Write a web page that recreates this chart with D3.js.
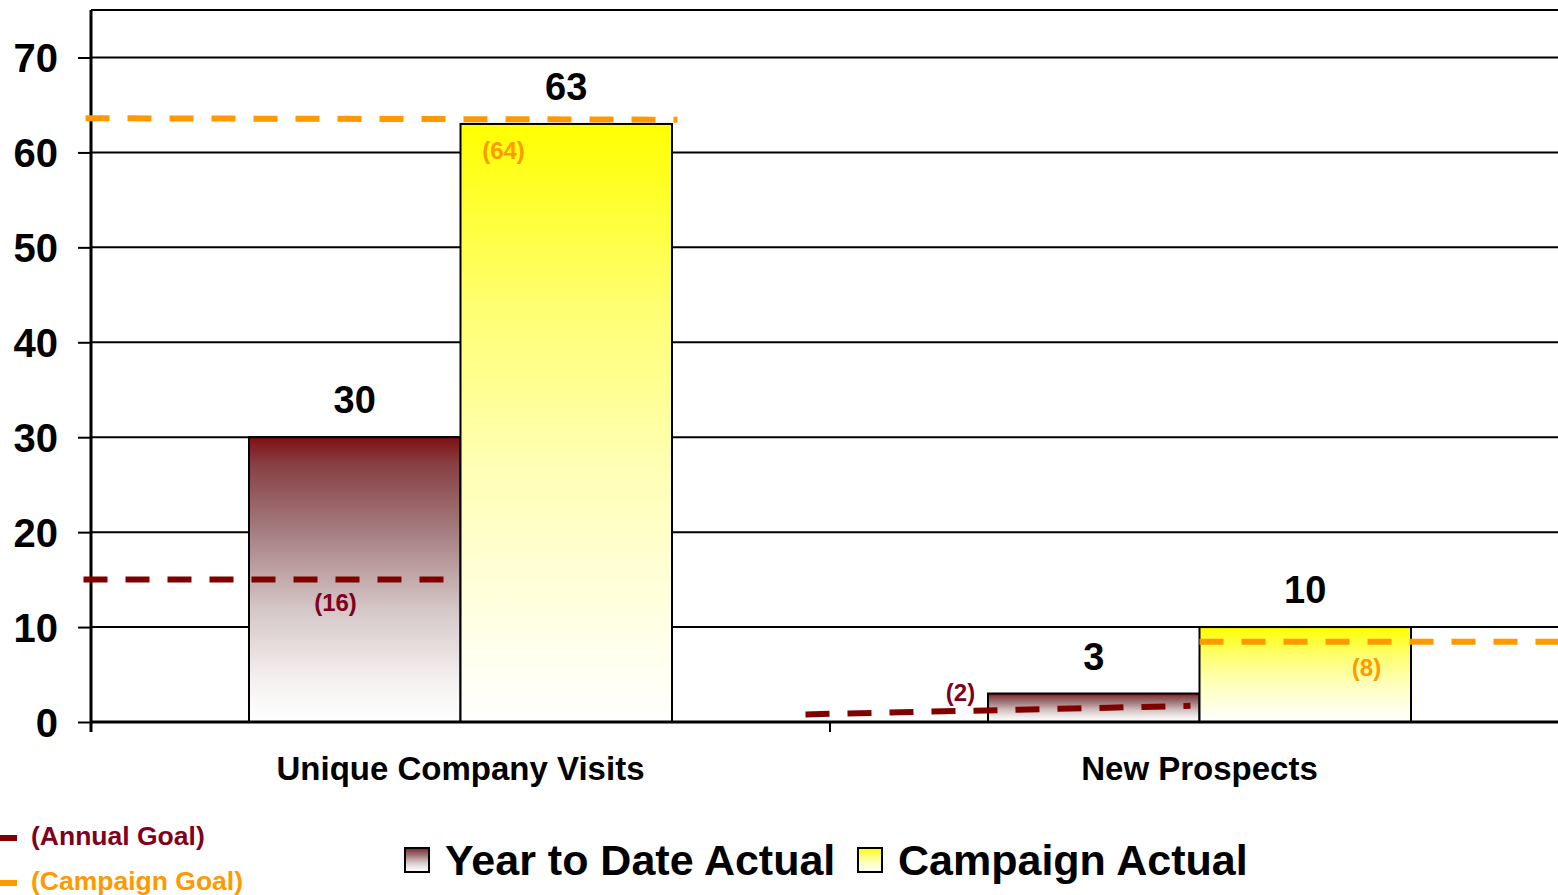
<!DOCTYPE html>
<html>
<head>
<meta charset="utf-8">
<script src="https://cdn.jsdelivr.net/npm/d3@7/dist/d3.min.js"></script>
<style>
  html, body { margin: 0; padding: 0; background: #fff; overflow: hidden; }
  svg { display: block; }
  text { font-family: "Liberation Sans", Arial, Helvetica, sans-serif; font-weight: bold; }
</style>
</head>
<body>
<svg id="chart" width="1558" height="895"></svg>
<script>
// ---- data ----
const categories = ["Unique Company Visits", "New Prospects"];
const seriesNames = ["Year to Date Actual", "Campaign Actual"];
const ytdActual = [30, 3];
const campaignActual = [63, 10];
// goal lines: value at start and end of each segment
const annualGoalStart = [15, 0.8];
const annualGoalEnd = [15, 1.7];
const campaignGoalStart = [63.6, 8.45];
const campaignGoalEnd = [63.45, 8.45];
const annualGoalLabels = ["(16)", "(2)"];
const campaignGoalLabels = ["(64)", "(8)"];
const yTicks = [0, 10, 20, 30, 40, 50, 60, 70];
const goalLegend = ["(Annual Goal)", "(Campaign Goal)"];

// ---- layout ----
const svg = d3.select("#chart");
const pLeft = 91, pTop = 10, pBottom = 722, pRight = 1569;
const darkRed = "#800000", orange = "#ff9900";

const x = d3.scaleBand().domain(categories).range([pLeft, pRight]).paddingInner(0).paddingOuter(0);
const xs = d3.scaleBand().domain(seriesNames).range([0, 423]);
const y = d3.scaleLinear().domain([0, 70]).range([pBottom, 57.5]);

// gradients
const defs = svg.append("defs");
function grad(id, stops) {
  const g = defs.append("linearGradient").attr("id", id)
    .attr("x1", 0).attr("y1", 0).attr("x2", 0).attr("y2", 1);
  stops.forEach(s => g.append("stop").attr("offset", s[0]).attr("stop-color", s[1]));
}
grad("gYTD", [[0, "#7f0f14"], [0.1, "#884246"], [0.3, "#a07578"], [0.6, "#d4c6c6"], [0.85, "#f5f0f0"], [1, "#ffffff"]]);
grad("gCamp", [[0, "#ffff00"], [0.3, "#ffff70"], [0.55, "#ffffb0"], [0.85, "#ffffe8"], [1, "#ffffff"]]);
const fills = ["url(#gYTD)", "url(#gCamp)"];

// plot border top
svg.append("line").attr("x1", pLeft).attr("x2", pRight).attr("y1", pTop).attr("y2", pTop)
  .attr("stroke", "#000").attr("stroke-width", 2);

// gridlines
svg.append("g").selectAll("line").data(yTicks.filter(d => d > 0)).join("line")
  .attr("x1", pLeft).attr("x2", pRight)
  .attr("y1", d => y(d)).attr("y2", d => y(d))
  .attr("stroke", "#000").attr("stroke-width", 2);

// bars
const groups = svg.append("g").selectAll("g").data(categories).join("g")
  .attr("transform", d => `translate(${x(d) + x.bandwidth() / 2 - 211.5},0)`);
const barData = (c, i) => [
  { s: seriesNames[0], v: ytdActual[i], f: fills[0] },
  { s: seriesNames[1], v: campaignActual[i], f: fills[1] }
];
groups.selectAll("rect").data(barData).join("rect")
  .attr("x", d => xs(d.s)).attr("width", xs.bandwidth())
  .attr("y", d => y(d.v)).attr("height", d => y(0) - y(d.v))
  .attr("fill", d => d.f).attr("stroke", "#000").attr("stroke-width", 2);
groups.selectAll("text.val").data(barData).join("text").attr("class", "val")
  .attr("x", d => xs(d.s) + xs.bandwidth() / 2).attr("y", d => y(d.v) - 24)
  .attr("text-anchor", "middle").attr("font-size", 38).attr("fill", "#000")
  .text(d => d.v);

// y axis
const yAxis = svg.append("g").attr("transform", `translate(${pLeft},0)`)
  .call(d3.axisLeft(y).tickValues(yTicks).tickSize(13).tickPadding(20).tickFormat(d3.format("d")));
yAxis.select(".domain").attr("stroke", "#000").attr("stroke-width", 3)
  .attr("d", `M0,${pTop}V${pBottom + 10}`);
yAxis.selectAll(".tick line").attr("stroke", "#000").attr("stroke-width", 2);
yAxis.selectAll(".tick text").attr("font-size", 40).attr("fill", "#000")
  .attr("font-family", "'Liberation Sans', Arial, sans-serif").attr("font-weight", "bold")
  .attr("dy", "0.36em");

// x axis
const xAxis = svg.append("g").attr("transform", `translate(0,${pBottom})`)
  .call(d3.axisBottom(x).tickSize(0).tickPadding(35));
xAxis.select(".domain").attr("stroke", "#000").attr("stroke-width", 3)
  .attr("d", `M${pLeft},0H${pRight}`);
xAxis.selectAll(".tick text").attr("font-size", 33).attr("fill", "#000")
  .attr("font-family", "'Liberation Sans', Arial, sans-serif").attr("font-weight", "bold");
// category separator ticks
svg.append("g").selectAll("line").data(categories.slice(1)).join("line")
  .attr("x1", d => x(d)).attr("x2", d => x(d))
  .attr("y1", pBottom).attr("y2", pBottom + 10)
  .attr("stroke", "#000").attr("stroke-width", 2);

// goal lines (extents relative to category centre)
const annualExt = [[-377, -17], [-394, -9]];
const campExt = [[-375, 217], [0, 380]];
const cx = i => x(categories[i]) + x.bandwidth() / 2;
const dash = "24,18";
categories.forEach((c, i) => {
  svg.append("line")
    .attr("x1", cx(i) + annualExt[i][0]).attr("x2", cx(i) + annualExt[i][1])
    .attr("y1", y(annualGoalStart[i])).attr("y2", y(annualGoalEnd[i]))
    .attr("stroke", darkRed).attr("stroke-width", 6).attr("stroke-dasharray", dash);
  svg.append("line")
    .attr("x1", cx(i) + campExt[i][0]).attr("x2", cx(i) + campExt[i][1])
    .attr("y1", y(campaignGoalStart[i])).attr("y2", y(campaignGoalEnd[i]))
    .attr("stroke", orange).attr("stroke-width", 6).attr("stroke-dasharray", dash);
});

// goal labels
const annualLabelPos = [[-125, 31], [-239, -13]];
const campLabelPos = [[43, 41], [167, 34]];
categories.forEach((c, i) => {
  svg.append("text")
    .attr("x", cx(i) + annualLabelPos[i][0])
    .attr("y", y(annualGoalStart[i]) + annualLabelPos[i][1])
    .attr("text-anchor", "middle").attr("font-size", 24).attr("fill", "#800020")
    .text(annualGoalLabels[i]);
  svg.append("text")
    .attr("x", cx(i) + campLabelPos[i][0]).attr("y", y(campaignGoalStart[i]) + campLabelPos[i][1])
    .attr("text-anchor", "middle").attr("font-size", 24).attr("fill", orange)
    .text(campaignGoalLabels[i]);
});

// legend: goals (bottom-left)
const goalColors = ["#800020", orange];
const goalLineColors = [darkRed, orange];
goalLegend.forEach((t, i) => {
  const yy = 845 + i * 45;
  svg.append("line").attr("x1", 0).attr("x2", 17).attr("y1", yy - 7).attr("y2", yy - 7)
    .attr("stroke", goalLineColors[i]).attr("stroke-width", 6);
  svg.append("text").attr("x", 31).attr("y", yy).attr("font-size", 26.5)
    .attr("fill", goalColors[i]).text(t);
});

// legend: series
const legX = [405, 858];
seriesNames.forEach((s, i) => {
  svg.append("rect").attr("x", legX[i]).attr("y", 848).attr("width", 24).attr("height", 24)
    .attr("fill", fills[i]).attr("stroke", "#000").attr("stroke-width", 2);
  svg.append("text").attr("x", legX[i] + 40).attr("y", 875).attr("font-size", 43)
    .attr("fill", "#000").text(s);
});
</script>
</body>
</html>
